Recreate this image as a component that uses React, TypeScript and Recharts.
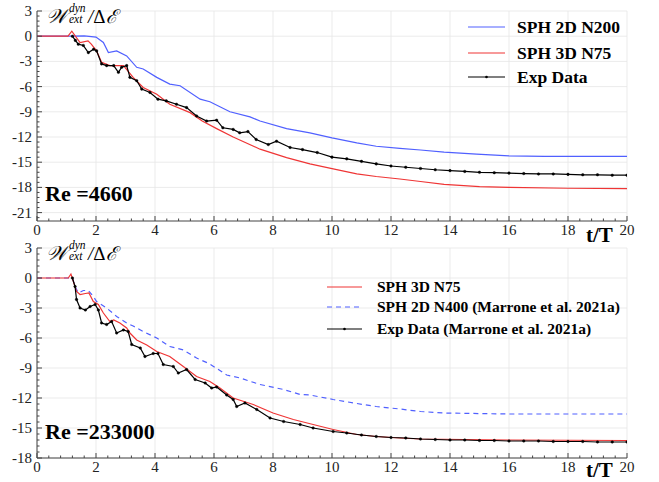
import React from "react";
import { LineChart, Line, XAxis, YAxis, ReferenceLine } from "recharts";

type Pt = [number, number];

const xTicks = [0, 2, 4, 6, 8, 10, 12, 14, 16, 18, 20];
const topYTicks = [3, 0, -3, -6, -9, -12, -15, -18, -21];
const bottomYTicks = [3, 0, -3, -6, -9, -12, -15, -18];

// minor tick marks (drawn inward): every 0.4 on x, every 0.6 on y
const xMinor = Array.from({ length: 51 }, (_, i) => Math.round(i * 4) / 10);
const topYMinor = Array.from({ length: 42 }, (_, i) => Math.round((i - 36) * 6) / 10);
const bottomYMinor = Array.from({ length: 36 }, (_, i) => Math.round((i - 30) * 6) / 10);

// ---- Re = 4660 ----
const topSph2dN200: Pt[] = [
  [0, 0], [1.2, 0], [1.6, 0.05], [2.0, -0.1], [2.25, -0.75], [2.42, -1.95], [2.7, -1.75],
  [3.04, -2.35], [3.38, -3.7], [3.6, -3.9], [4.06, -4.9], [4.5, -5.7], [4.85, -5.9],
  [5.53, -7.5], [5.86, -7.8], [6.2, -8.4], [6.54, -9.0], [7.22, -9.6], [7.56, -10.1],
  [8.46, -11.0], [9.25, -11.5], [10.0, -12.1], [10.84, -12.7], [11.5, -13.1], [12.3, -13.35],
  [13.0, -13.55], [13.8, -13.8], [14.9, -14.05], [16.0, -14.25], [17.2, -14.3], [20, -14.3],
];

const topSph3dN75: Pt[] = [
  [0, 0], [1.05, 0], [1.18, 0.6], [1.3, 0], [1.46, -0.75], [1.73, -0.55], [1.84, -0.95],
  [2.02, -1.75], [2.19, -3.1], [2.47, -3.5], [2.93, -3.5], [3.26, -4.9], [3.6, -6.1],
  [4.06, -6.9], [4.5, -8.1], [5.19, -9.1], [5.6, -10.1], [6.09, -11.0], [6.65, -12.0],
  [7.56, -13.45], [8.46, -14.45], [9.25, -15.2], [10.04, -15.8], [10.84, -16.4], [11.5, -16.7],
  [12.3, -17.0], [13.0, -17.3], [13.8, -17.65], [15, -17.9], [16, -18.0], [18, -18.1], [20, -18.15],
];

const topExp: Pt[] = [
  [1.2, 0], [1.3, -0.5], [1.4, -0.95], [1.57, -1.1], [1.74, -1.95], [1.92, -1.55], [2.02, -1.75],
  [2.19, -3.3], [2.36, -3.5], [2.6, -3.5], [2.76, -4.3], [2.87, -3.7], [3.04, -3.5], [3.15, -4.9],
  [3.38, -5.3], [3.55, -6.3], [3.83, -6.7], [4.1, -7.5], [4.38, -7.7], [4.73, -8.1], [5.07, -8.5],
  [5.41, -9.5], [5.75, -10.1], [6.09, -10.0], [6.3, -10.9], [6.65, -11.1], [6.87, -11.5],
  [7.15, -11.35], [7.43, -12.3], [7.84, -12.9], [8.12, -12.5], [8.58, -13.25], [9.0, -13.5],
  [9.5, -13.85], [10.0, -14.4], [10.5, -14.6], [11.0, -14.9], [11.5, -15.2], [12.0, -15.45],
  [12.5, -15.6], [13.0, -15.75], [13.5, -15.9], [14.0, -16.0], [14.5, -16.1], [15.0, -16.2],
  [15.5, -16.25], [16.0, -16.3], [16.5, -16.35], [17.0, -16.4], [17.5, -16.4], [18.0, -16.45],
  [18.5, -16.5], [19.0, -16.5], [19.5, -16.55], [20.0, -16.55],
];

// ---- Re = 233000 ----
const botSph3dN75: Pt[] = [
  [0, 0], [1.06, 0], [1.15, 0.4], [1.25, -0.5], [1.34, -1.35], [1.46, -1.65], [1.64, -1.55],
  [1.76, -1.5], [1.91, -2.35], [2.08, -2.65], [2.25, -3.5], [2.47, -4.35], [2.6, -4.2],
  [2.81, -4.5], [3.04, -5.0], [3.15, -5.5], [3.38, -6.2], [3.72, -6.7], [4.06, -7.35],
  [4.5, -7.85], [4.96, -8.85], [5.41, -9.85], [5.86, -10.35], [6.2, -11.0], [6.65, -12.0],
  [7.33, -12.65], [8.0, -13.5], [8.69, -14.15], [9.36, -14.65], [10.04, -15.15], [10.84, -15.65],
  [11.5, -15.85], [12.3, -16.0], [13.0, -16.1], [16, -16.2], [20, -16.25],
];

const botSph2dN400: Pt[] = [
  [0, 0], [1.2, 0], [1.29, -0.85], [1.4, -1.5], [1.57, -1.25], [1.74, -1.25], [1.91, -1.85],
  [2.02, -2.35], [2.36, -3.0], [2.7, -3.85], [3.04, -4.5], [3.26, -4.8], [3.6, -5.35],
  [4.06, -6.0], [4.5, -6.85], [4.96, -7.2], [5.41, -8.0], [5.86, -8.6], [6.43, -9.7],
  [6.88, -10.0], [7.56, -10.65], [8.36, -11.15], [8.92, -11.65], [9.25, -11.7], [10.04, -12.15],
  [10.84, -12.55], [11.5, -12.85], [12.3, -13.1], [13.0, -13.35], [13.8, -13.5], [16, -13.6], [20, -13.6],
];

const botExp: Pt[] = [
  [1.2, 0], [1.29, -0.85], [1.34, -2.15], [1.46, -3.0], [1.64, -3.2], [1.8, -2.85], [1.97, -2.65],
  [2.08, -3.2], [2.19, -4.5], [2.36, -4.65], [2.53, -4.35], [2.7, -5.5], [2.93, -5.2], [3.09, -5.35],
  [3.21, -6.65], [3.5, -7.0], [3.66, -7.85], [3.94, -7.55], [4.1, -7.55], [4.28, -8.65], [4.62, -8.85],
  [4.79, -9.5], [5.07, -9.15], [5.36, -10.15], [5.7, -10.5], [5.92, -11.0], [6.09, -10.9],
  [6.43, -11.7], [6.65, -12.15], [6.77, -12.85], [7.05, -12.5], [7.45, -13.15], [7.9, -14.0],
  [8.36, -14.35], [8.92, -14.65], [9.36, -15.0], [10.04, -15.35], [10.5, -15.5], [11.0, -15.7],
  [11.5, -15.85], [12.0, -15.95], [12.5, -16.0], [13.0, -16.1], [13.5, -16.15], [14.0, -16.2],
  [14.5, -16.2], [15.0, -16.25], [15.5, -16.25], [16.0, -16.3], [16.5, -16.3], [17.0, -16.3],
  [17.5, -16.35], [18.0, -16.35], [18.5, -16.35], [19.0, -16.4], [19.5, -16.4], [20.0, -16.4],
];

const BLUE = "#5060ff";
const RED = "#ef3535";
const SERIF = "Liberation Serif, Times New Roman, serif";
const serif = { fontFamily: SERIF };

const rows = (pts: Pt[]) => pts.map(([t, v]) => ({ t, v }));

const XTick = ({ x, y, payload }: any) => {
  const v = payload.value;
  const major = Math.abs(v % 2) < 1e-6;
  return (
    <g>
      <line x1={x} x2={x} y1={y} y2={y - (major ? 5 : 2.5)} stroke="#444" />
      {major && (
        <text x={x} y={y + 13.5} textAnchor="middle" style={serif} fontSize={15} fill="#222">
          {v}
        </text>
      )}
    </g>
  );
};

const YTick = ({ x, y, payload }: any) => {
  const v = payload.value;
  const major = Math.abs(v % 3) < 1e-6;
  return (
    <g>
      <line x1={x} x2={x + (major ? 5 : 2.5)} y1={y} y2={y} stroke="#444" />
      {major && (
        <text x={x - 5} y={y + 5} textAnchor="end" style={serif} fontSize={15} fill="#222">
          {v}
        </text>
      )}
    </g>
  );
};

type Series = { name: string; pts: Pt[]; color: string; dash?: string; dots?: boolean };

function Panel({ series, yDomain, yTicks, yMinor, top, marginTop, xAxisHeight }: {
  series: Series[]; yDomain: [number, number]; yTicks: number[]; yMinor: number[];
  top: number; marginTop: number; xAxisHeight: number;
}) {
  return (
    <div style={{ position: "absolute", left: 0, top }}>
      <LineChart width={659} height={241} margin={{ top: marginTop, right: 32, bottom: 0, left: 0 }}>
        {xTicks.map((v) => (
          <ReferenceLine key={"gx" + v} x={v} stroke="#e6e6e6" strokeWidth={0.8} />
        ))}
        {yTicks.map((v) => (
          <ReferenceLine key={"gy" + v} y={v} stroke="#e6e6e6" strokeWidth={0.8} />
        ))}
        <XAxis
          type="number" dataKey="t" domain={[0, 20]} ticks={xMinor} interval={0}
          tick={(p: any) => <XTick {...p} />} tickLine={false} tickSize={0} tickMargin={0}
          height={xAxisHeight} axisLine={{ stroke: "#444" }} allowDataOverflow
        />
        <YAxis
          type="number" dataKey="v" domain={yDomain} ticks={yMinor} interval={0}
          tick={(p: any) => <YTick {...p} />} tickLine={false} tickSize={0} tickMargin={0}
          width={37} axisLine={{ stroke: "#444" }} allowDataOverflow
        />
        {series.map((s) => (
          <Line
            key={s.name} data={rows(s.pts)} dataKey="v" type="linear" stroke={s.color}
            strokeWidth={1.2} strokeDasharray={s.dash}
            dot={s.dots ? { r: 1.3, fill: "#000", stroke: "#000", strokeWidth: 0.4 } : false}
            activeDot={false} isAnimationActive={false}
          />
        ))}
      </LineChart>
    </div>
  );
}

function YLabel({ dy }: { dy: number }) {
  return (
    <g style={serif}>
      <text x={46} y={23 + dy} fontSize={20} fontStyle="italic">𝒲</text>
      <text x={69} y={12 + dy} fontSize={11.5} fontStyle="italic">dyn</text>
      <text x={69} y={23 + dy} fontSize={11.5} fontStyle="italic">ext</text>
      <text x={88} y={23 + dy} fontSize={19}>
        <tspan fontStyle="italic">/</tspan>
        <tspan>Δ</tspan>
        <tspan fontStyle="italic">ℰ</tspan>
      </text>
    </g>
  );
}

export default function App() {
  return (
    <div style={{ position: "absolute", left: 0, top: 0, width: 659, height: 482, background: "#fff" }}>
      <Panel
        top={0} marginTop={11} xAxisHeight={20} yDomain={[-22, 3]} yTicks={topYTicks} yMinor={topYMinor}
        series={[
          { name: "SPH 2D N200", pts: topSph2dN200, color: BLUE },
          { name: "SPH 3D N75", pts: topSph3dN75, color: RED },
          { name: "Exp Data", pts: topExp, color: "#000", dots: true },
        ]}
      />
      <Panel
        top={241} marginTop={7} xAxisHeight={24} yDomain={[-18, 3]} yTicks={bottomYTicks} yMinor={bottomYMinor}
        series={[
          { name: "SPH 2D N400", pts: botSph2dN400, color: BLUE, dash: "5 4" },
          { name: "SPH 3D N75", pts: botSph3dN75, color: RED },
          { name: "Exp Data", pts: botExp, color: "#000", dots: true },
        ]}
      />
      <svg width={659} height={482} style={{ position: "absolute", left: 0, top: 0, pointerEvents: "none" }}>
        <YLabel dy={0} />
        <YLabel dy={237} />
        <g style={serif} fontWeight="bold" fill="#000">
          <text x={45} y={201} fontSize={22}>Re =4660</text>
          <text x={45} y={439} fontSize={22}>Re =233000</text>
          <text x={586} y={242} fontSize={21}>t/T</text>
          <text x={586} y={477} fontSize={21}>t/T</text>
        </g>
        {/* top legend */}
        <g style={serif} fontWeight="bold" fontSize={17.5}>
          <line x1={468} x2={505} y1={27} y2={27} stroke={BLUE} strokeWidth={1.2} />
          <text x={517} y={33}>SPH 2D N200</text>
          <line x1={468} x2={505} y1={53} y2={53} stroke={RED} strokeWidth={1.2} />
          <text x={517} y={59}>SPH 3D N75</text>
          <line x1={468} x2={505} y1={77} y2={77} stroke="#000" strokeWidth={1.2} />
          <circle cx={486.5} cy={77} r={1.3} fill="#000" />
          <text x={517} y={83}>Exp Data</text>
        </g>
        {/* bottom legend */}
        <g style={serif} fontWeight="bold" fontSize={15.5}>
          <line x1={327} x2={362} y1={287} y2={287} stroke={RED} strokeWidth={1.2} />
          <text x={377} y={292}>SPH 3D N75</text>
          <line x1={327} x2={362} y1={307} y2={307} stroke={BLUE} strokeWidth={1.2} strokeDasharray="5 4" />
          <text x={377} y={312}>SPH 2D N400 (Marrone et al. 2021a)</text>
          <line x1={327} x2={362} y1={329} y2={329} stroke="#000" strokeWidth={1.2} />
          <circle cx={344.5} cy={329} r={1.3} fill="#000" />
          <text x={377} y={334}>Exp Data (Marrone et al. 2021a)</text>
        </g>
      </svg>
    </div>
  );
}
